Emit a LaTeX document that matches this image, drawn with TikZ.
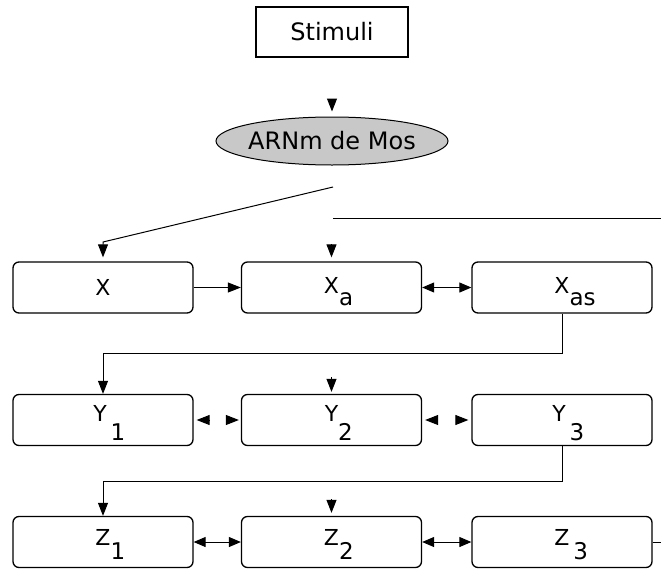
\documentclass[tikz,border=0pt]{standalone}
\usepackage{fontspec}
\setmainfont{DejaVu Sans}
\usetikzlibrary{arrows.meta,shapes.geometric}
\definecolor{ellgray}{RGB}{200,200,200}
\newcommand\lowsub[2][13pt]{\rlap{\raisebox{-#1}{\fontsize{23}{26}\selectfont #2}}}
\tikzset{
  bx/.style={draw, rounded corners=6pt, minimum width=180pt, minimum height=51pt,
    inner sep=0pt, line width=1.3pt, text depth=0pt,
    font=\fontsize{22}{25}\selectfont},
  rowx/.style={bx, text height=11pt},
  rowy/.style={bx, text height=2pt},
  rowz/.style={bx, text height=6pt},
  conn/.style={line width=1pt},
  arr/.style={conn, -{Triangle[length=13pt,width=10pt]}},
  darr/.style={conn, {Triangle[length=12pt,width=10pt]}-{Triangle[length=12pt,width=10pt]}}
}
\begin{document}
\begin{tikzpicture}[x=1pt,y=-1pt]
\useasboundingbox (0,0) rectangle (661,570);
% top nodes
\node[draw, minimum width=152pt, minimum height=50pt, inner sep=0pt, line width=1.2pt,
  font=\fontsize{24}{28}\selectfont] (stim) at (332,32) {Stimuli};
\node[ellipse, draw, fill=ellgray, minimum width=232pt, minimum height=48pt,
  inner xsep=-1.8pt, inner ysep=0pt,
  line width=1pt, font=\fontsize{24}{28}\selectfont] (ell) at (332,141) {ARNm de Mos};
% boxes
\node[bx, text height=16pt] (X) at (103,287.5) {X};
\node[rowx] (Xa)  at (331.5,287.5) {X\lowsub[12pt]{a}};
\node[rowx] (Xas) at (562,287.5) {X\lowsub[12pt]{as}};
\node[rowy] (Y1)  at (103,420) {\kern-6pt Y\lowsub[19pt]{\,1}};
\node[rowy] (Y2)  at (331.5,420) {Y\lowsub[19pt]{2}};
\node[rowy] (Y3)  at (562,420) {\kern-6pt Y\lowsub[19pt]{\,3}};
\node[rowz] (Z1)  at (103,542) {Z\lowsub[14pt]{1}};
\node[rowz] (Z2)  at (331.5,542) {Z\lowsub[14pt]{2}};
\node[rowz] (Z3)  at (562,542) {Z\lowsub[14pt]{\,3}};
% free ends
\coordinate (e0) at (332,99);
\coordinate (d0) at (333,187);
\coordinate (d1) at (103,242);
\coordinate (h0) at (333,218);
\coordinate (h1) at (661,218);
\coordinate (xa0) at (331.5,244);
\coordinate (y20) at (331.5,377);
\coordinate (z20) at (331.5,499);
\coordinate (g1) at (209,420);
\coordinate (g2) at (227,420);
\coordinate (g3) at (437,420);
\coordinate (g4) at (456,420);
\coordinate (zend) at (661,542);
% connectors
\draw[arr, shorten >=5pt] (e0) -- (ell.north);
\draw[arr, shorten >=4pt] (d0) -- (d1) -- (X.north);
\draw[conn] (h0) -- (h1);
\draw[arr, shorten >=4pt] (xa0) -- (Xa.north);
\draw[arr] (X) -- (Xa);
\draw[darr] (Xa) -- (Xas);
\draw[arr] (Xas.south) -- ++(0,40) -| (Y1.north);
\draw[arr, shorten >=2pt] (y20) -- (Y2.north);
\draw[arr, shorten >=3pt] (g1) -- (Y1.east);
\draw[arr, shorten >=2pt] (g2) -- (Y2.west);
\draw[arr, shorten >=3pt] (g3) -- (Y2.east);
\draw[arr, shorten >=3pt] (g4) -- (Y3.west);
\draw[arr] (Y3.south) -- ++(0,35) -| (Z1.north);
\draw[arr, shorten >=3pt] (z20) -- (Z2.north);
\draw[darr] (Z1) -- (Z2);
\draw[darr] (Z2) -- (Z3);
\draw[conn] (Z3.east) -- (zend);
\end{tikzpicture}
\end{document}
